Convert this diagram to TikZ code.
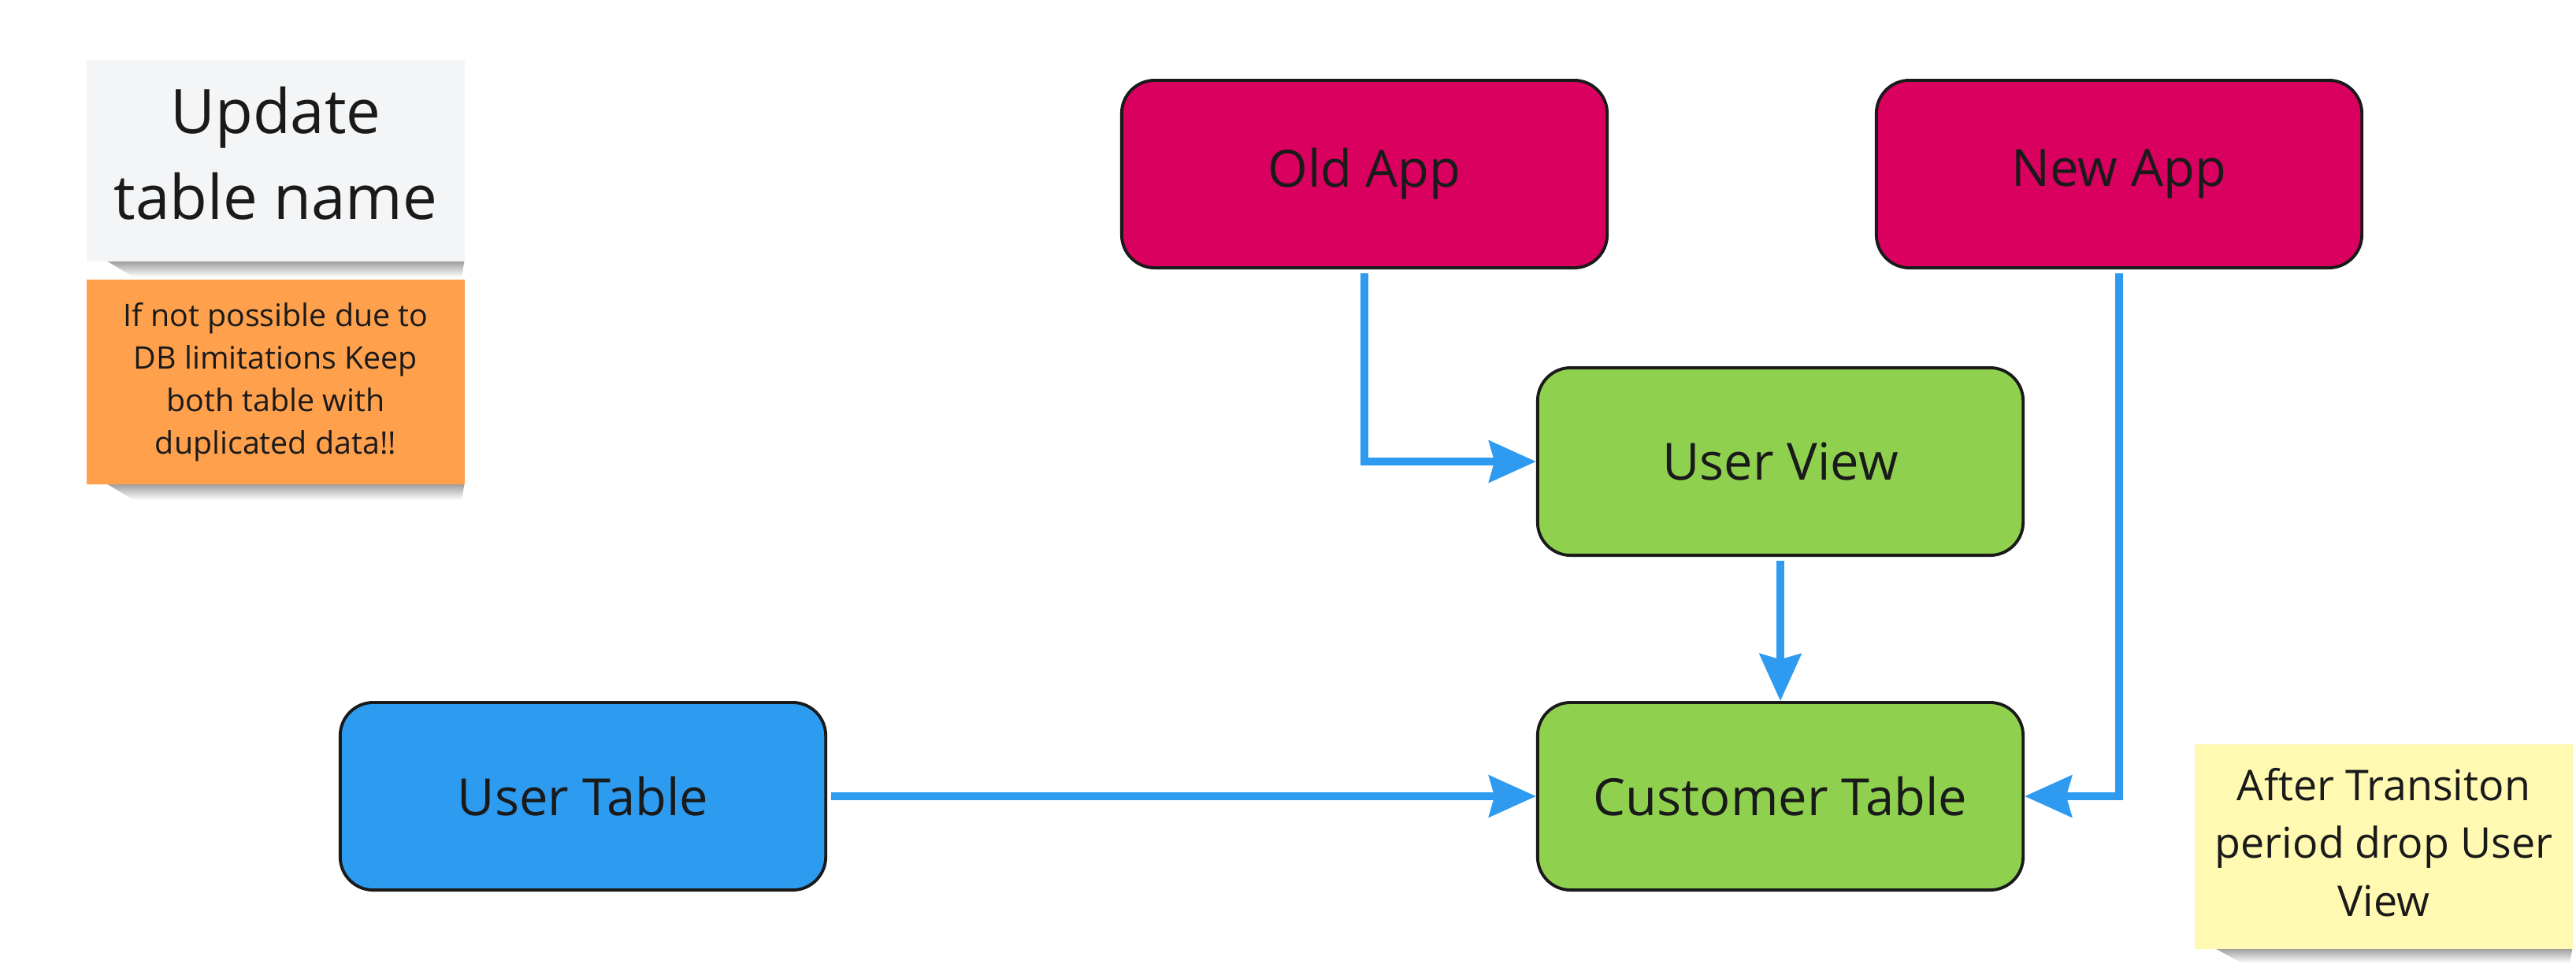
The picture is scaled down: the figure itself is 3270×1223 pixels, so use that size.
\documentclass[tikz,border=0pt]{standalone}
\usepackage{fontspec}
\setmainfont{Open Sans}
\usetikzlibrary{arrows.meta}
\definecolor{pinkc}{HTML}{D9005F}
\definecolor{greenc}{HTML}{8FD14F}
\definecolor{bluec}{HTML}{2D9BF0}
\definecolor{linec}{HTML}{2E9BF0}
\definecolor{orangec}{HTML}{FFA04C}
\definecolor{yellowc}{HTML}{FFF9B1}
\definecolor{greyc}{HTML}{F4F5F7}
\definecolor{inkc}{HTML}{1A1A1A}
\begin{document}
\begin{tikzpicture}[x=0.01cm,y=-0.01cm,
  appbox/.style={draw=inkc, line width=1.1pt, rounded corners=0.42cm,
    minimum width=6.16cm, minimum height=2.38cm, text=inkc,
    font=\fontsize{18.5}{24}\selectfont, inner sep=0pt},
  flow/.style={draw=linec, line width=2.6pt,
    -{Stealth[length=17pt,width=15pt,inset=2pt]}},
  sticky/.style={inner sep=0pt, text=inkc, align=center,
    minimum width=4.8cm},
  stickyshadow/.style={top color=black!45, bottom color=white, draw=none},
]
\useasboundingbox (0,0) rectangle (3270,1223);
\fill[white] (0,0) rectangle (3270,1223);

% sticky shadows
\shade[stickyshadow] (130,328) -- (590,328) -- (586,352) -- (170,352) -- cycle;
\shade[stickyshadow] (130,611) -- (590,611) -- (586,635) -- (170,635) -- cycle;
\shade[stickyshadow] (2806,1201) -- (3266,1201) -- (3262,1223) -- (2846,1223) -- cycle;

% sticky notes
\node[sticky, fill=greyc, minimum height=2.55cm,
  font=\fontsize{22.2}{31}\selectfont] (update) at (350,204)
  {Update\\table name\vphantom{g}};
\node[sticky, fill=orangec, minimum height=2.60cm,
  font=\fontsize{11.2}{15.3}\selectfont] (limit) at (350,485)
  {If not possible due to\\DB limitations Keep\\both table with\\duplicated data!!};
\node[sticky, fill=yellowc, minimum height=2.60cm,
  font=\fontsize{15.3}{20.9}\selectfont] (after) at (3026,1075)
  {\raisebox{0.11cm}{\begin{tabular}{@{}c@{}}After Transiton\\period drop User\\View\end{tabular}}};

% boxes
\node[appbox, fill=pinkc] (old) at (1732,221) {Old App};
\node[appbox, fill=pinkc] (new) at (2690,221) {New App};
\node[appbox, fill=greenc] (view) at (2260,586) {User View};
\node[appbox, fill=greenc] (cust) at (2260,1011) {Customer Table};
\node[appbox, fill=bluec] (user) at (740,1011) {User Table};

% connectors
\draw[flow] ([yshift=-1.5pt]old.south) |- (view.west);
\draw[flow] ([yshift=-1.5pt]view.south) -- (cust.north);
\draw[flow] ([xshift=1.5pt]user.east) -- (cust.west);
\draw[flow] ([yshift=-1.5pt]new.south) |- (cust.east);
\end{tikzpicture}
\end{document}
